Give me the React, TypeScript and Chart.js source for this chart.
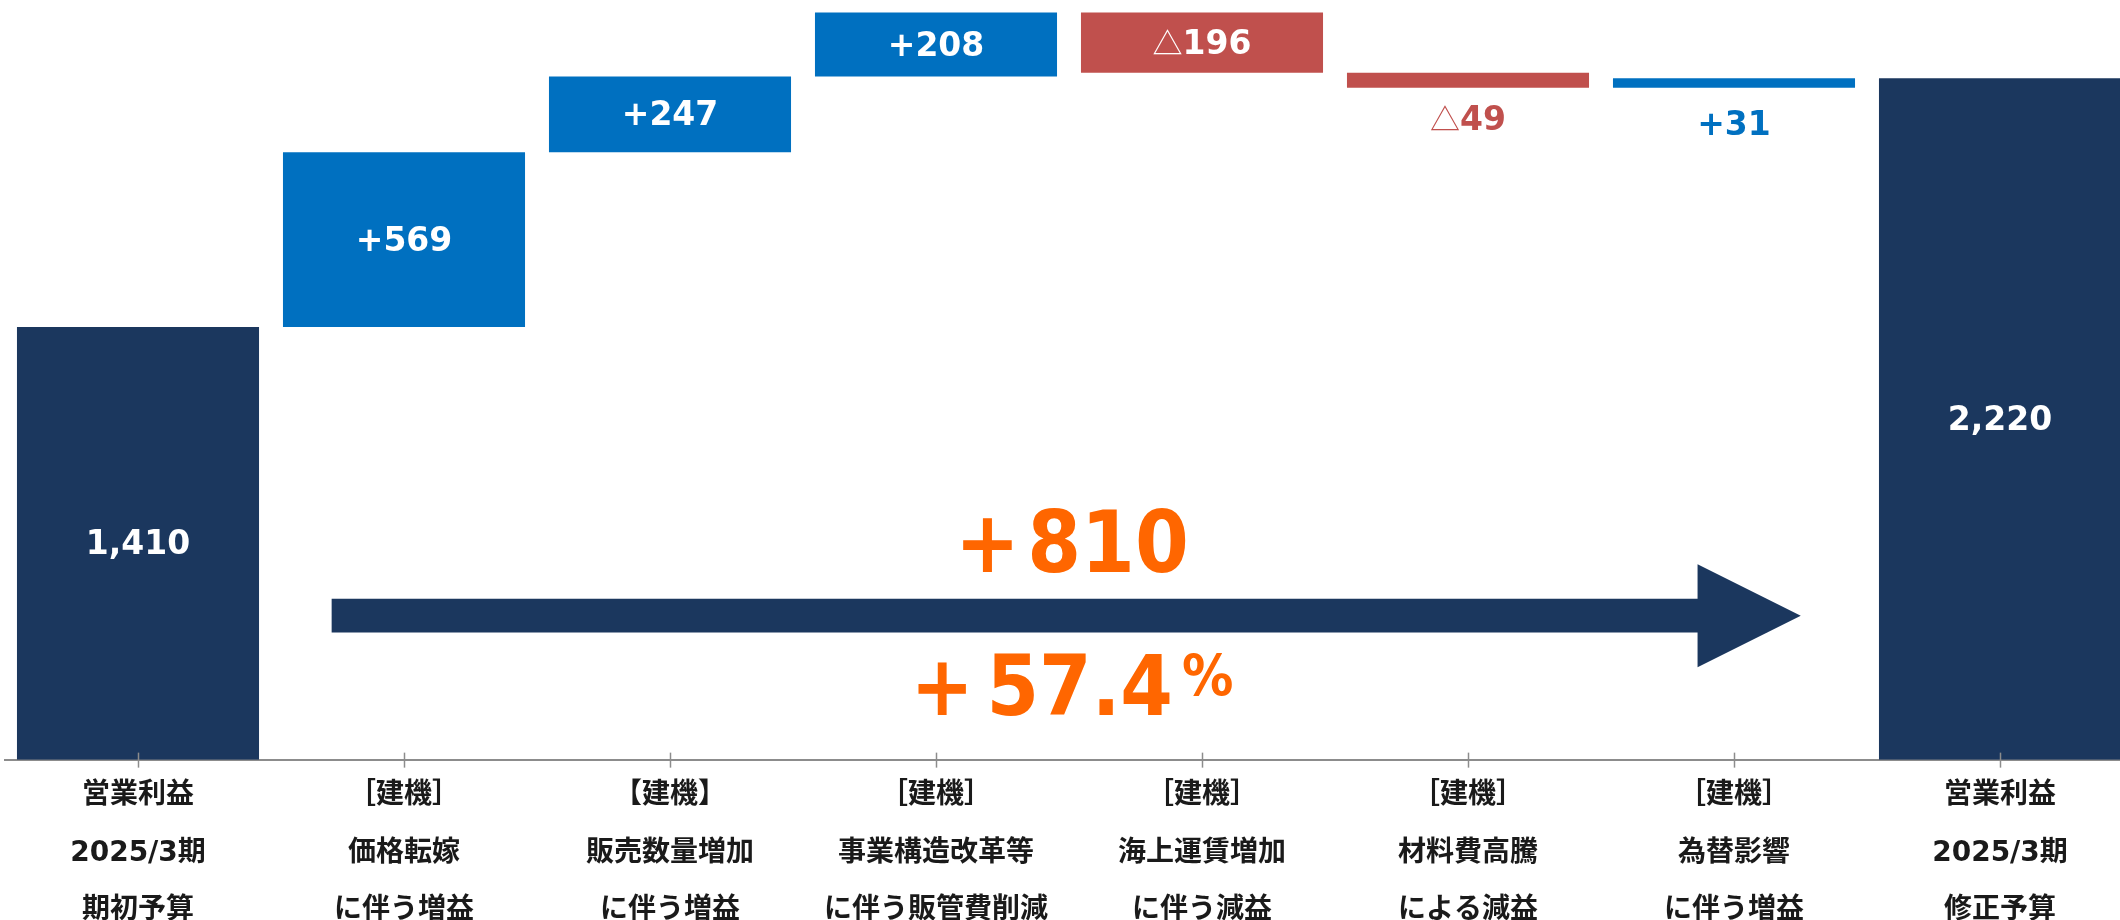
import React, { useEffect, useRef } from 'react';
import { Chart, registerables } from 'chart.js';

Chart.register(...registerables);

// ---------- data ----------
const categories: string[][] = [
  ['営業利益', '2025/3期', '期初予算'],
  ['［建機］', '価格転嫁', 'に伴う増益'],
  ['【建機】', '販売数量増加', 'に伴う増益'],
  ['［建機］', '事業構造改革等', 'に伴う販管費削減'],
  ['［建機］', '海上運賃増加', 'に伴う減益'],
  ['［建機］', '材料費高騰', 'による減益'],
  ['［建機］', '為替影響', 'に伴う増益'],
  ['営業利益', '2025/3期', '修正予算'],
];
const startValue = 1410;
const endValue = 2220;
const changes = [569, 247, 208, -196, -49, 31];
const totalChange = 810;
const changePercent = '57.4';
const yMax = 2475;

// ---------- styles ----------
const NAVY = '#1b375e';
const BLUE = '#0070c0';
const RED = '#c0504d';
const ORANGE = '#ff6600';
const AXIS = '#8c8c8c';
const TEXT = '#1a1a1a';
const labelPlacement = ['inside', 'inside', 'inside', 'inside', 'inside', 'below', 'below', 'inside'];
const arrowGeom = { xStart: 0.728, xHeadBase: 5.863, xTip: 6.251, y: 469, shaftHalf: 55, headHalf: 168 };
const bigText = { x: 3.511, y810: 611, yPct: 144 };

const LBL_SIZE = 33;
const LBL_FONT = `bold ${LBL_SIZE}px 'DejaVu Sans', 'Noto Sans CJK JP', sans-serif`;
const TRI_FONT = `30px 'Noto Sans CJK JP', sans-serif`;
const BIG1 = 86;
const BIG2 = 84;
const PCT = 57;
const BIG_SX = 0.9;

// ---------- derived bars ----------
const ranges: [number, number][] = [];
const colors: string[] = [];
const labelSegs: { text: string; font: string }[][] = [];
ranges.push([0, startValue]);
colors.push(NAVY);
labelSegs.push([{ text: startValue.toLocaleString('en-US'), font: LBL_FONT }]);
let run = startValue;
for (const c of changes) {
  const next = run + c;
  ranges.push([Math.min(run, next), Math.max(run, next)]);
  colors.push(c >= 0 ? BLUE : RED);
  labelSegs.push(
    c >= 0
      ? [{ text: '+' + c, font: LBL_FONT }]
      : [
          { text: '△', font: TRI_FONT },
          { text: String(Math.abs(c)), font: LBL_FONT },
        ]
  );
  run = next;
}
ranges.push([0, endValue]);
colors.push(NAVY);
labelSegs.push([{ text: endValue.toLocaleString('en-US'), font: LBL_FONT }]);

type Seg = { text: string; font: string; dy?: number; gap?: number };
function drawSegs(ctx: CanvasRenderingContext2D, segs: Seg[], cx: number, baseline: number, color: string, sx = 1) {
  ctx.save();
  ctx.fillStyle = color;
  ctx.textBaseline = 'alphabetic';
  ctx.textAlign = 'left';
  let total = 0;
  const widths = segs.map((s) => {
    ctx.font = s.font;
    const w = ctx.measureText(s.text).width + (s.gap || 0);
    total += w;
    return w;
  });
  ctx.translate(cx, baseline);
  ctx.scale(sx, 1);
  let x = -total / 2;
  segs.forEach((s, i) => {
    ctx.font = s.font;
    ctx.fillText(s.text, x, s.dy || 0);
    x += widths[i];
  });
  ctx.restore();
}

const overlay = {
  id: 'overlay',
  afterDraw(chart: any) {
    const ctx: CanvasRenderingContext2D = chart.ctx;
    const xs = chart.scales.x;
    const ys = chart.scales.y;
    const axisY = chart.chartArea.bottom;

    // tick marks crossing the axis
    ctx.save();
    ctx.strokeStyle = AXIS;
    ctx.lineWidth = 1.5;
    for (let i = 0; i < categories.length; i++) {
      const px = Math.round(xs.getPixelForValue(i)) + 0.5;
      ctx.beginPath();
      ctx.moveTo(px, axisY - 7);
      ctx.lineTo(px, axisY + 8);
      ctx.stroke();
    }
    ctx.restore();

    // bar labels
    const meta = chart.getDatasetMeta(0);
    const cap = LBL_SIZE * 0.729;
    meta.data.forEach((el: any, i: number) => {
      const p = el.getProps(['x', 'y', 'base'], true);
      const top = Math.min(p.y, p.base);
      const bottom = Math.max(p.y, p.base);
      if (labelPlacement[i] === 'inside') {
        drawSegs(ctx, labelSegs[i], p.x, (top + bottom) / 2 + cap / 2 - 1, '#ffffff');
      } else {
        drawSegs(ctx, labelSegs[i], p.x, top + 45 + cap / 2, colors[i]);
      }
    });

    // arrow
    const xa = xs.getPixelForValue(arrowGeom.xStart);
    const xb = xs.getPixelForValue(arrowGeom.xHeadBase);
    const xt = xs.getPixelForValue(arrowGeom.xTip);
    const yc = ys.getPixelForValue(arrowGeom.y);
    const sh = Math.abs(ys.getPixelForValue(arrowGeom.y + arrowGeom.shaftHalf) - yc);
    const hh = Math.abs(ys.getPixelForValue(arrowGeom.y + arrowGeom.headHalf) - yc);
    ctx.save();
    ctx.fillStyle = NAVY;
    ctx.beginPath();
    ctx.moveTo(xa, yc - sh);
    ctx.lineTo(xb, yc - sh);
    ctx.lineTo(xb, yc - hh);
    ctx.lineTo(xt, yc);
    ctx.lineTo(xb, yc + hh);
    ctx.lineTo(xb, yc + sh);
    ctx.lineTo(xa, yc + sh);
    ctx.closePath();
    ctx.fill();
    ctx.restore();

    // big texts
    const cx = xs.getPixelForValue(bigText.x);
    const f1 = `bold ${BIG1}px 'DejaVu Sans', sans-serif`;
    const f2 = `bold ${BIG2}px 'DejaVu Sans', sans-serif`;
    drawSegs(
      ctx,
      [
        { text: '+', font: f1, gap: 8 },
        { text: String(totalChange), font: f1 },
      ],
      cx,
      ys.getPixelForValue(bigText.y810),
      ORANGE,
      BIG_SX
    );
    drawSegs(
      ctx,
      [
        { text: '+', font: f2, gap: 14 },
        { text: changePercent, font: f2, gap: 10 },
        { text: '%', font: `bold ${PCT}px 'DejaVu Sans', sans-serif`, dy: -(BIG2 - PCT) * 0.729 },
      ],
      cx,
      ys.getPixelForValue(bigText.yPct),
      ORANGE,
      BIG_SX
    );
  },
};

export default function App() {
  const ref = useRef<HTMLCanvasElement>(null);
  useEffect(() => {
    if (!ref.current) return;
    const chart = new Chart(ref.current, {
      type: 'bar',
      data: {
        labels: categories,
        datasets: [
          {
            data: ranges as any,
            backgroundColor: colors,
            borderWidth: 0,
            barPercentage: 0.91,
            categoryPercentage: 1,
          },
        ],
      },
      options: {
        responsive: false,
        animation: false,
        devicePixelRatio: 1,
        layout: { padding: { left: 5, right: 0, top: 0, bottom: 0 } },
        plugins: { legend: { display: false }, tooltip: { enabled: false } },
        scales: {
          x: {
            grid: { display: false, drawTicks: false },
            border: { display: true, color: AXIS, width: 2 },
            ticks: {
              padding: 8,
              color: TEXT,
              maxRotation: 0,
              autoSkip: false,
              font: { family: "'DejaVu Sans', 'Noto Sans CJK JP', sans-serif", size: 28, weight: 'bold', lineHeight: 2.04 },
            },
          },
          y: { display: false, min: 0, max: yMax },
        },
      },
      plugins: [overlay],
    });
    return () => chart.destroy();
  }, []);
  return (
    <div style={{ position: 'absolute', left: 0, top: 0, width: 2120, height: 920, overflow: 'hidden', background: '#fff' }}>
      <canvas ref={ref} width={2133} height={947} style={{ display: 'block' }} />
    </div>
  );
}
